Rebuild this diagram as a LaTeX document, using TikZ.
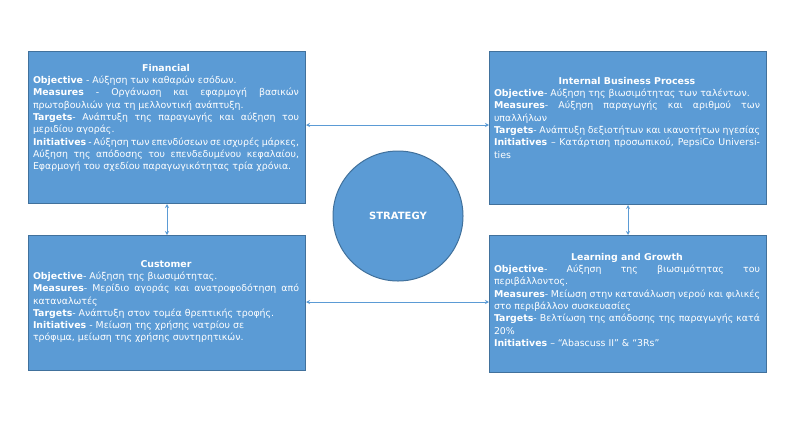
\documentclass[tikz,border=0pt]{standalone}
\usepackage{fontspec}
\setmainfont{DejaVu Sans}
\usetikzlibrary{arrows.meta}
\definecolor{boxfill}{HTML}{5B9BD5}
\definecolor{boxline}{HTML}{41719C}
\tikzset{
  panel/.style={text=white, text width=266pt, align=justify, inner sep=4pt, font=\fontsize{9.4pt}{12.3pt}\selectfont, anchor=north},
  bg/.style={draw=boxline, line width=1pt, fill=boxfill, minimum width=277pt, anchor=north west},
  link/.style={draw=boxfill, line width=0.8pt, {Stealth[length=4pt,width=4pt]}-{Stealth[length=4pt,width=4pt]}}
}
\newcommand{\ttl}[1]{\centerline{\textbf{#1}}}
\begin{document}
\begin{tikzpicture}[x=1pt,y=-1pt]
\useasboundingbox (0,0) rectangle (794,437);
\node[bg, minimum height=152pt] (finbox) at (28,51) {};
\node[bg, minimum height=153pt] (ibpbox) at (489,51) {};
\node[bg, minimum height=135pt] (cusbox) at (28,235) {};
\node[bg, minimum height=137pt] (lgbox) at (489,235) {};
\node[panel] (fin) at (166,60) {\ttl{Financial}\par
\textbf{Objective} - Αύξηση των καθαρών εσόδων.\par
\textbf{Measures} - Οργάνωση και εφαρμογή βασικών πρωτοβουλιών για τη μελλοντική ανάπτυξη.\par
\textbf{Targets}- Ανάπτυξη της παραγωγής και αύξηση του μεριδίου αγοράς.\par
\textbf{Initiatives} - Αύξηση των επενδύσεων σε ισχυρές μάρκες, Αύξηση της απόδοσης του επενδεδυμένου κεφαλαίου, Εφαρμογή του σχεδίου παραγωγικότητας τρία χρόνια.};
\node[panel] (ibp) at (627,73) {\ttl{Internal Business Process}\par
\textbf{Objective}- Αύξηση της βιωσιμότητας των ταλέντων.\par
\textbf{Measures}- Αύξηση παραγωγής και αριθμού των υπαλλήλων\par
\textbf{Targets}- Ανάπτυξη δεξιοτήτων και ικανοτήτων ηγεσίας\par
\textbf{Initiatives} – Κατάρτιση προσωπικού, PepsiCo Universities};
\node[panel] (cus) at (166,256) {\ttl{Customer}\par
\textbf{Objective}- Αύξηση της βιωσιμότητας.\par
\textbf{Measures}- Μερίδιο αγοράς και ανατροφοδότηση από καταναλωτές\par
\textbf{Targets}- Ανάπτυξη στον τομέα θρεπτικής τροφής.\par
\textbf{Initiatives} - Μείωση της χρήσης νατρίου σε\\ τρόφιμα, μείωση της χρήσης συντηρητικών.};
\node[panel] (lg) at (627,249) {\ttl{Learning and Growth}\par
\textbf{Objective}- Αύξηση της βιωσιμότητας του περιβάλλοντος.\par
\textbf{Measures}- Μείωση στην κατανάλωση νερού και φιλικές στο περιβάλλον συσκευασίες\par
\textbf{Targets}- Βελτίωση της απόδοσης της παραγωγής κατά 20\%\par
\textbf{Initiatives} – “Abascuss II” \& “3Rs”};
\node[circle, draw=boxline, line width=1pt, fill=boxfill, minimum size=130pt, text=white, font=\fontsize{10pt}{11pt}\selectfont\bfseries] (strat) at (398,216) {STRATEGY};
\draw[link] (finbox.east |- 0,125) -- (ibpbox.west |- 0,125);
\draw[link] (cusbox.east |- 0,302) -- (lgbox.west |- 0,302);
\draw[link] (finbox.south) -- (cusbox.north);
\draw[link] (ibpbox.south) -- (lgbox.north);
\end{tikzpicture}
\end{document}
